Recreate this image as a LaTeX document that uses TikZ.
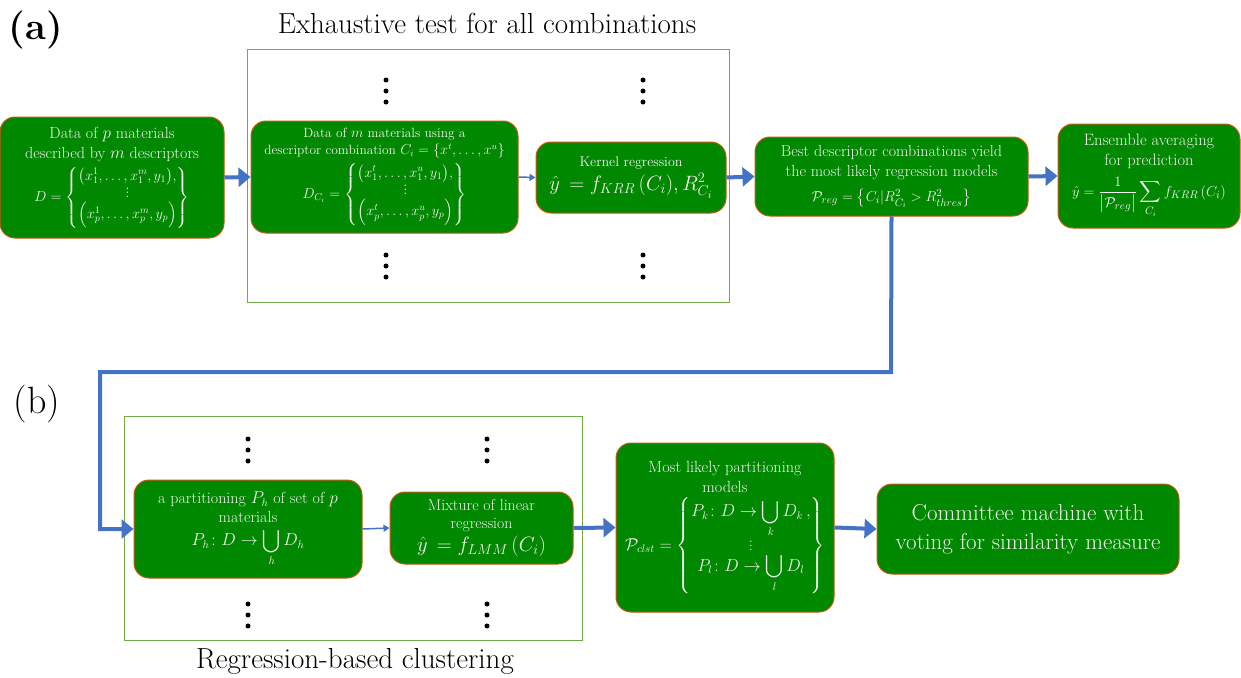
\documentclass[tikz,border=0pt]{standalone}
\usepackage{amsmath,amssymb}
\usetikzlibrary{arrows.meta,positioning}
\definecolor{boxgreen}{RGB}{0,136,0}
\definecolor{boxedge}{RGB}{197,90,17}
\definecolor{framegreen}{RGB}{112,173,71}
\definecolor{arrowblue}{RGB}{68,114,196}
\definecolor{txt}{RGB}{242,242,238}
\tikzset{
  gbox/.style={draw=boxedge, fill=boxgreen, rounded corners=15pt, line width=1pt,
    text=txt, align=center, inner sep=1pt, font=\fontsize{16}{20}\selectfont},
  frame/.style={draw=framegreen, line width=1pt},
  thick arrow/.style={draw=arrowblue, line width=4pt, -{Triangle[length=12pt,width=19pt]}},
  thin arrow/.style={draw=arrowblue, line width=1.5pt, -{Triangle[length=6pt,width=7pt]}},
  dot/.style={circle, fill=black, inner sep=0pt, minimum size=5pt},
}
\newcommand{\vdotsm}[2]{%
  \node[dot] at (#1,#2) {};
  \node[dot] at (#1,#2+11) {};
  \node[dot] at (#1,#2+22) {};}
\begin{document}
\begin{tikzpicture}[x=1pt,y=-1pt]
\useasboundingbox (0,0) rectangle (1241,677);
% labels
\node[font=\fontsize{38}{42}\selectfont\bfseries] (la) at (36,30) {(a)};
\node[font=\fontsize{38}{42}\selectfont] (lb) at (37,404) {(b)};
\node[font=\fontsize{29}{33}\selectfont] (ta) at (487,23) {Exhaustive test for all combinations};
\node[font=\fontsize{29}{33}\selectfont] (tb) at (355,661) {Regression-based clustering};
% frames
\draw[frame] (247,50) rectangle (729,302);
\draw[frame] (124,416) rectangle (582,640);
% dots
\vdotsm{386}{80}
\vdotsm{643}{80}
\vdotsm{386}{255}
\vdotsm{643}{255}
\vdotsm{248}{439}
\vdotsm{487}{439}
\vdotsm{248}{604}
\vdotsm{487}{604}
% boxes (a)
\node[gbox, minimum width=224pt, minimum height=121pt] (data) at (112,177.5)
 {Data of $p$ materials\\described by $m$ descriptors\\[5pt]
  {\fontsize{14.4}{17}\selectfont$D=\left\{\begin{matrix}\big(x_1^1,\dots,x_1^m,y_1\big),\\[-3pt] \vdots\\[-1pt] \Big(x_p^1,\dots,x_p^m,y_p\Big)\end{matrix}\right\}$}};
\node[gbox, minimum width=267pt, minimum height=112pt, font=\fontsize{13.4}{17}\selectfont] (datac) at (384.5,177)
 {Data of $m$ materials using a\\descriptor combination $C_i=\{x^t,\dots,x^u\}$\\[5pt]
  {\fontsize{14.8}{17}\selectfont$D_{C_i}=\left\{\begin{matrix}\big(x_1^t,\dots,x_1^u,y_1\big),\\[-3pt] \vdots\\[-1pt] \Big(x_p^t,\dots,x_p^u,y_p\Big)\end{matrix}\right\}$}};
\node[gbox, minimum width=190pt, minimum height=71pt, font=\fontsize{14}{16}\selectfont] (kernel) at (631,177.5)
 {Kernel regression\\[3pt]{\fontsize{21}{24}\selectfont$\hat{y}\,=f_{KRR}\,(C_i),R^2_{C_i}$}};
\node[gbox, minimum width=273pt, minimum height=79pt] (best) at (891.5,176.5)
 {Best descriptor combinations yield\\the most likely regression models\\[5pt]
  {\fontsize{15.2}{18}\selectfont$\mathcal{P}_{reg}=\big\{C_i|R^2_{C_i}>R^2_{thres}\big\}$}};
\node[gbox, minimum width=182pt, minimum height=104pt, font=\fontsize{16.5}{20}\selectfont] (ens) at (1149,176)
 {Ensemble averaging\\for prediction\\[7pt]
  {\fontsize{15}{18}\selectfont$\hat{y}=\dfrac{1}{\big|\mathcal{P}_{reg}\big|}\displaystyle\sum_{C_i}f_{KRR}\,(C_i)$}};
% boxes (b)
\node[gbox, minimum width=228pt, minimum height=98pt, font=\fontsize{16}{19}\selectfont] (part) at (248,529)
 {a partitioning $P_h$ of set of $p$\\materials\\[4pt]
  {\fontsize{16}{18}\selectfont$P_h\colon D\rightarrow\displaystyle\bigcup_h D_h$}};
\node[gbox, minimum width=183pt, minimum height=72pt, font=\fontsize{15.8}{18}\selectfont] (mix) at (481.5,528)
 {Mixture of linear\\regression\\[3pt]{\fontsize{21}{24}\selectfont$\hat{y}\,=f_{LMM}\,(C_i)$}};
\node[gbox, minimum width=218pt, minimum height=169pt, font=\fontsize{16.2}{20}\selectfont] (most) at (725,527.5)
 {Most likely partitioning\\models\\[4pt]
  {\fontsize{16}{19}\selectfont$\mathcal{P}_{clst}=\left\{\begin{matrix}P_k\colon D\rightarrow\displaystyle\bigcup_k D_k\,,\\[-2pt] \vdots\\[-2pt] P_l\colon D\rightarrow\displaystyle\bigcup_l D_l\end{matrix}\right\}$}};
\node[gbox, minimum width=302pt, minimum height=90pt, font=\fontsize{23}{29}\selectfont] (comm) at (1028,529)
 {Committee machine with\\voting for similarity measure};
% connectors
\draw[thick arrow] (data.east) -- (datac.west);
\draw[thin arrow] (datac.east) -- (kernel.west);
\draw[thick arrow] (kernel.east) -- (best.west);
\draw[thick arrow] (best.east) -- (ens.west);
\coordinate (c1) at (891,372);
\coordinate (c2) at (100,372);
\draw[thick arrow] (best.south) -- (c1) -- (c2) |- (part.west);
\draw[thin arrow] (part.east) -- (mix.west);
\draw[thick arrow] (mix.east) -- (most.west);
\draw[thick arrow] (most.east) -- (comm.west);
\end{tikzpicture}
\end{document}
